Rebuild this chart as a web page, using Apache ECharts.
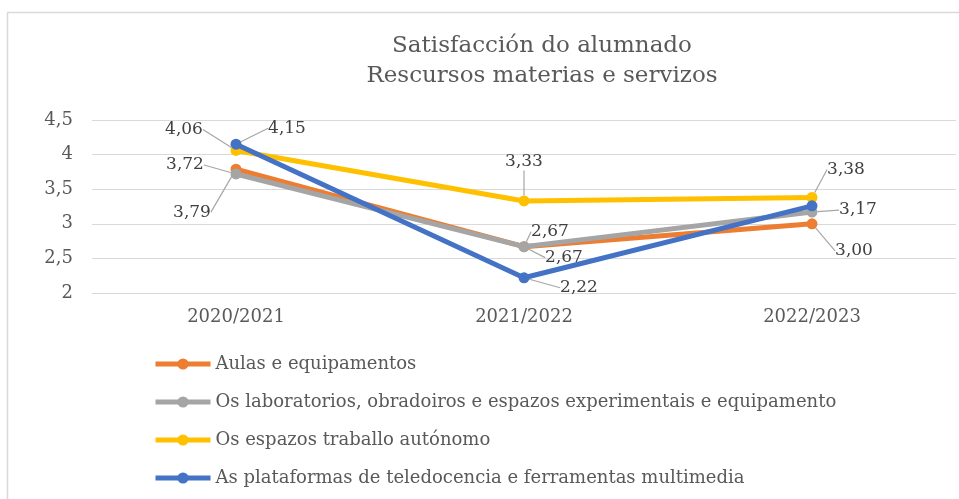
<!DOCTYPE html>
<html>
<head>
<meta charset="utf-8">
<script src="https://cdn.jsdelivr.net/npm/echarts@6/dist/echarts.min.js"></script>
<style>html,body{margin:0;padding:0;background:#fff}#c{width:959px;height:499px}</style>
</head>
<body>
<div id="c"></div>
<script>
const categories = ['2020/2021', '2021/2022', '2022/2023'];
const seriesNames = [
  'Aulas e equipamentos',
  'Os laboratorios, obradoiros e espazos experimentais e equipamento',
  'Os espazos traballo autónomo',
  'As plataformas de teledocencia e ferramentas multimedia'
];
const aulas = [3.79, 2.67, 3.00];
const laboratorios = [3.72, 2.67, 3.17];
const espazos = [4.06, 3.33, 3.38];
const plataformas = [4.15, 2.22, 3.26];
const showLabel = [[true, true, true], [true, true, true], [true, true, true], [true, true, false]];
const yTicks = [2, 2.5, 3, 3.5, 4, 4.5];
const colors = ['#ED7D31', '#A5A5A5', '#FFC000', '#4472C4'];
// label offsets (layout only)
const labelOffsets = [
  [[-44, 43], [40, 11], [42, 27]],
  [[-51, -9], [26, -15], [46, -2]],
  [[-52, -21], [0, -39], [34, -28]],
  [[51, -16], [55, 10], [0, 0]]
];

const fmt = v => (Math.round(v * 100) / 100).toFixed(2).replace('.', ',');
const fmtAxis = v => String(v).replace('.', ',');
const allValues = [aulas, laboratorios, espazos, plataformas];
const FONT = 'DejaVu Serif';

const chart = echarts.init(document.getElementById('c'));
chart.setOption({
  backgroundColor: '#fff',
  animation: false,
  graphic: [{
    type: 'rect', z: -10,
    shape: { x: 7.5, y: 12.5, width: 1000, height: 1000 },
    style: { fill: '#fff', stroke: '#D9D9D9', lineWidth: 1.5 }
  }],
  title: {
    text: 'Satisfacción do alumnado\nRescursos materias e servizos',
    left: 537, top: 26, textAlign: 'center',
    textStyle: { fontFamily: FONT, fontWeight: 'normal', fontSize: 23, color: '#595959', lineHeight: 30 }
  },
  legend: {
    orient: 'vertical', left: 148, top: 350, itemGap: 20,
    itemWidth: 55, itemHeight: 14,
    textStyle: { fontFamily: FONT, fontSize: 18, color: '#595959' },
    lineStyle: { width: 5 },
    data: seriesNames
  },
  grid: { left: 92, right: 3, top: 120, bottom: 206, containLabel: false },
  xAxis: {
    type: 'category', data: categories, boundaryGap: true,
    axisLine: { show: true, lineStyle: { color: '#D9D9D9', width: 1 } },
    axisTick: { show: false },
    axisLabel: { fontFamily: FONT, fontSize: 18, color: '#595959', margin: 15 }
  },
  yAxis: {
    type: 'value', min: yTicks[0], max: yTicks[yTicks.length - 1], interval: 0.5,
    axisLine: { show: false }, axisTick: { show: false },
    splitLine: { lineStyle: { color: '#D9D9D9', width: 1 } },
    axisLabel: { fontFamily: FONT, fontSize: 18, color: '#595959', margin: 19, formatter: fmtAxis }
  },
  series: allValues.map((vals, si) => ({
    name: seriesNames[si],
    type: 'line',
    data: vals.map((v, i) => ({ value: v, label: { show: showLabel[si][i] }, labelLine: { show: showLabel[si][i] } })),
    color: colors[si],
    lineStyle: { width: 5, color: colors[si] },
    itemStyle: { color: colors[si] },
    symbol: 'circle', symbolSize: 11,
    z: 2 + si,
    label: {
      show: true, position: 'inside',
      fontFamily: FONT, fontSize: 17, color: '#404040',
      formatter: p => fmt(p.value)
    },
    labelLine: { show: true, lineStyle: { color: '#A6A6A6', width: 1.2 } },
    labelLayout: p => ({ dx: labelOffsets[si][p.dataIndex][0], dy: labelOffsets[si][p.dataIndex][1] })
  }))
});
</script>
</body>
</html>
